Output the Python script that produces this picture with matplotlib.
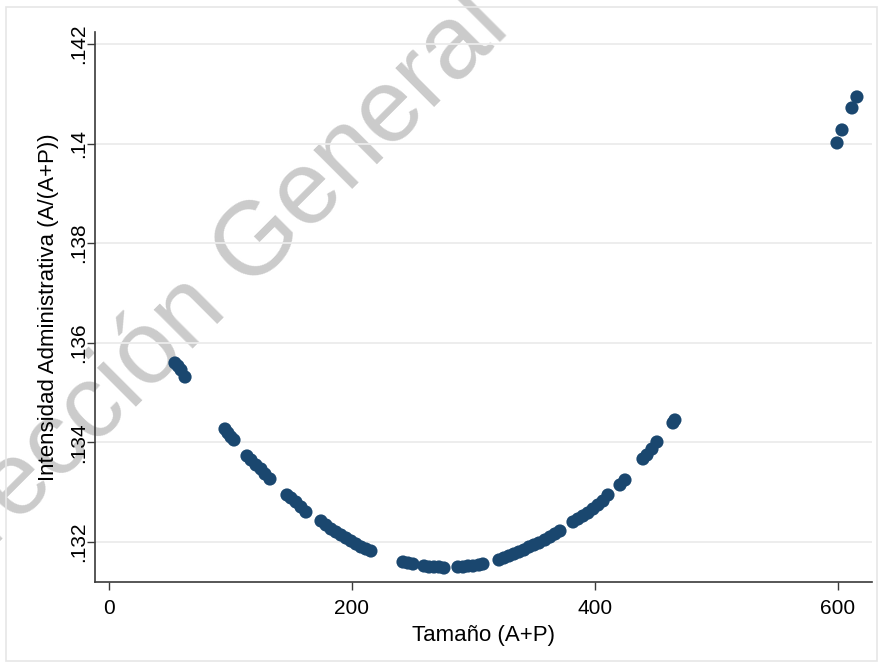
import matplotlib
matplotlib.use("Agg")
import matplotlib.pyplot as plt
from matplotlib.patches import Rectangle

# Tamaño (A+P) vs Intensidad Administrativa (A/(A+P))
tamano = [54.3, 56.8, 59.3, 62.6,
          95.5, 97.9, 100.4, 102.9,
          113.6, 116.9, 121.0, 125.1, 128.4, 132.5,
          146.5, 149.8, 153.9, 158.0, 162.1,
          174.5, 178.6, 182.7, 186.8, 190.9, 195.1, 199.2, 203.3, 207.4, 211.5, 215.6,
          242.0, 246.1, 250.2,
          259.3, 263.4, 267.5, 271.6, 275.7,
          287.2, 291.4, 295.5, 299.6, 304.5, 307.8,
          321.0, 325.1, 329.2, 333.3, 337.4, 341.6, 345.7, 349.8, 353.9, 358.8, 363.0, 367.1, 371.2,
          381.9, 386.0, 390.1, 394.2, 398.4, 402.5, 406.6, 410.7,
          420.6, 424.7,
          439.5, 442.8, 446.9, 451.0,
          464.2, 465.8,
          599.2, 603.3, 611.5, 615.6]

intensidad = [0.135594, 0.135534, 0.135454, 0.135313,
              0.134269, 0.134189, 0.134108, 0.134048,
              0.133727, 0.133647, 0.133546, 0.133466, 0.133365, 0.133265,
              0.132944, 0.132884, 0.132803, 0.132703, 0.132602,
              0.132422, 0.132341, 0.132261, 0.132201, 0.132141, 0.132080, 0.132020,
              0.131960, 0.131900, 0.131859, 0.131819,
              0.131598, 0.131578, 0.131558,
              0.131518, 0.131498, 0.131498, 0.131498, 0.131478,
              0.131498, 0.131498, 0.131518, 0.131518, 0.131538, 0.131558,
              0.131639, 0.131679, 0.131719, 0.131759, 0.131799, 0.131839, 0.131900,
              0.131940, 0.131980, 0.132040, 0.132100, 0.132161, 0.132221,
              0.132402, 0.132462, 0.132522, 0.132582, 0.132663, 0.132743, 0.132823, 0.132944,
              0.133145, 0.133245,
              0.133667, 0.133747, 0.133867, 0.134008,
              0.134390, 0.134450,
              0.140012, 0.140273, 0.140715, 0.140936]

xticks = [0, 200, 400, 600]
yticks = [0.132, 0.134, 0.136, 0.138, 0.140, 0.142]
ytick_labels = ['.132', '.134', '.136', '.138', '.14', '.142']

plt.rcParams['font.family'] = ['Liberation Sans', 'DejaVu Sans']

fig = plt.figure(figsize=(8.82, 6.68), dpi=100)
fig.patch.set_facecolor('white')

# light frame around the graph region
fig.patches.append(Rectangle((6 / 882, 1 - 661 / 668), 871 / 882, 654 / 668,
                             transform=fig.transFigure, fill=False,
                             edgecolor='#e6e6e6', linewidth=1.2))

ax = fig.add_axes([95 / 882, 1 - 582 / 668, 777 / 882, 550 / 668])
ax.patch.set_alpha(0)

ax.scatter(tamano, intensidad, s=90, color='#1a476f', edgecolors='none', zorder=3)

ax.set_xlim(-11.5, 628)
ax.set_ylim(0.131197, 0.14224)

ax.set_xticks(xticks)
ax.set_yticks(yticks)
ax.set_yticklabels(ytick_labels, rotation=90, va='center')

ax.grid(axis='y', color='#ececec', linewidth=1.3)
ax.set_axisbelow(True)

for side in ['top', 'right']:
    ax.spines[side].set_visible(False)
for side in ['left', 'bottom']:
    ax.spines[side].set_color('#3a3a3a')
    ax.spines[side].set_linewidth(1.2)

ax.tick_params(axis='both', colors='#3a3a3a', labelcolor='black', labelsize=15,
               length=6, width=1)
ax.tick_params(axis='x', pad=6)
ax.tick_params(axis='y', pad=-1)

ax.set_xlabel('Tamaño (A+P)', fontsize=16, labelpad=5)
ax.set_ylabel('Intensidad Administrativa (A/(A+P))', fontsize=16, labelpad=7)

# watermark, behind the plot content
fig.text(512 / 882, 1 - 30 / 668, 'Dirección General', fontsize=75, color='#cbcbcb',
         rotation=45, rotation_mode='anchor', ha='right', va='baseline', zorder=-1)

fig.savefig('out.png', dpi=100)
